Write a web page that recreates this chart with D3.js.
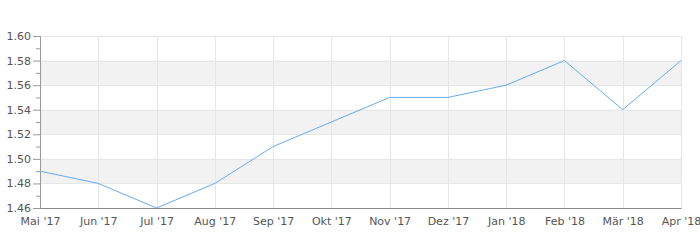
<!DOCTYPE html>
<html>
<head>
<meta charset="utf-8">
<script src="https://cdn.jsdelivr.net/npm/d3@7"></script>
<style>
  body { margin: 0; background: #fff; }
  .tick text { font: 11px "DejaVu Sans", sans-serif; fill: #555; }
</style>
</head>
<body>
<svg class="chart"></svg>
<script>
var months = ["Mai '17", "Jun '17", "Jul '17", "Aug '17", "Sep '17", "Okt '17",
              "Nov '17", "Dez '17", "Jan '18", "Feb '18", "Mär '18", "Apr '18"];
var values = [1.49, 1.48, 1.46, 1.48, 1.51, 1.53, 1.55, 1.55, 1.56, 1.58, 1.54, 1.58];
var yTicks = [1.46, 1.48, 1.50, 1.52, 1.54, 1.56, 1.58, 1.60];
var yMinor = [1.47, 1.49, 1.51, 1.53, 1.55, 1.57, 1.59];
var bands = [[1.48, 1.50], [1.52, 1.54], [1.56, 1.58]];

var margin = {top: 36, right: 19, bottom: 42, left: 40};
var width = 700 - margin.left - margin.right;
var height = 250 - margin.top - margin.bottom;

var svg = d3.select(".chart")
  .attr("width", 700)
  .attr("height", 250);

var chart = svg.append("g")
  .attr("transform", "translate(" + margin.left + "," + margin.top + ")");

var x = d3.scalePoint()
  .domain(months)
  .range([0, width]);

var y = d3.scaleLinear()
  .domain([1.46, 1.60])
  .range([height, 0]);

// shaded bands
chart.selectAll(".band")
  .data(bands)
  .enter().append("rect")
  .attr("class", "band")
  .attr("x", 0)
  .attr("width", width)
  .attr("y", function(d) { return y(d[1]); })
  .attr("height", function(d) { return y(d[0]) - y(d[1]); })
  .style("fill", "#f2f2f2");

// grid
chart.selectAll(".hgrid")
  .data(yTicks)
  .enter().append("line")
  .attr("x1", 0).attr("x2", width)
  .attr("y1", function(d) { return Math.round(y(d)) + 0.5; })
  .attr("y2", function(d) { return Math.round(y(d)) + 0.5; })
  .style("stroke", "#e6e6e6");

chart.selectAll(".vgrid")
  .data(months)
  .enter().append("line")
  .attr("y1", 0).attr("y2", height)
  .attr("x1", function(d) { return Math.round(x(d)) + 0.5; })
  .attr("x2", function(d) { return Math.round(x(d)) + 0.5; })
  .style("stroke", "#e6e6e6");

// axes
var yAxis = d3.axisLeft(y)
  .tickValues(yTicks)
  .tickSize(7)
  .tickPadding(2)
  .tickFormat(d3.format(".2f"));

var yAxisMinor = d3.axisLeft(y)
  .tickValues(yMinor)
  .tickSize(4)
  .tickFormat("");

var gy = chart.append("g").call(yAxis);
gy.select(".domain").style("stroke", "#999");
gy.selectAll(".tick line").style("stroke", "#999");

var gym = chart.append("g").call(yAxisMinor);
gym.select(".domain").remove();
gym.selectAll(".tick line").style("stroke", "#999");

var xAxis = d3.axisBottom(x)
  .tickSize(0)
  .tickPadding(9);

var gx = chart.append("g")
  .attr("transform", "translate(0," + height + ")")
  .call(xAxis);
gx.select(".domain").style("stroke", "#888");

// line
var line = d3.line()
  .x(function(d, i) { return x(months[i]); })
  .y(function(d) { return y(d); });

chart.append("path")
  .datum(values)
  .attr("d", line)
  .style("fill", "none")
  .style("stroke", "#66acf2")
  .style("stroke-width", 1);
</script>
</body>
</html>
